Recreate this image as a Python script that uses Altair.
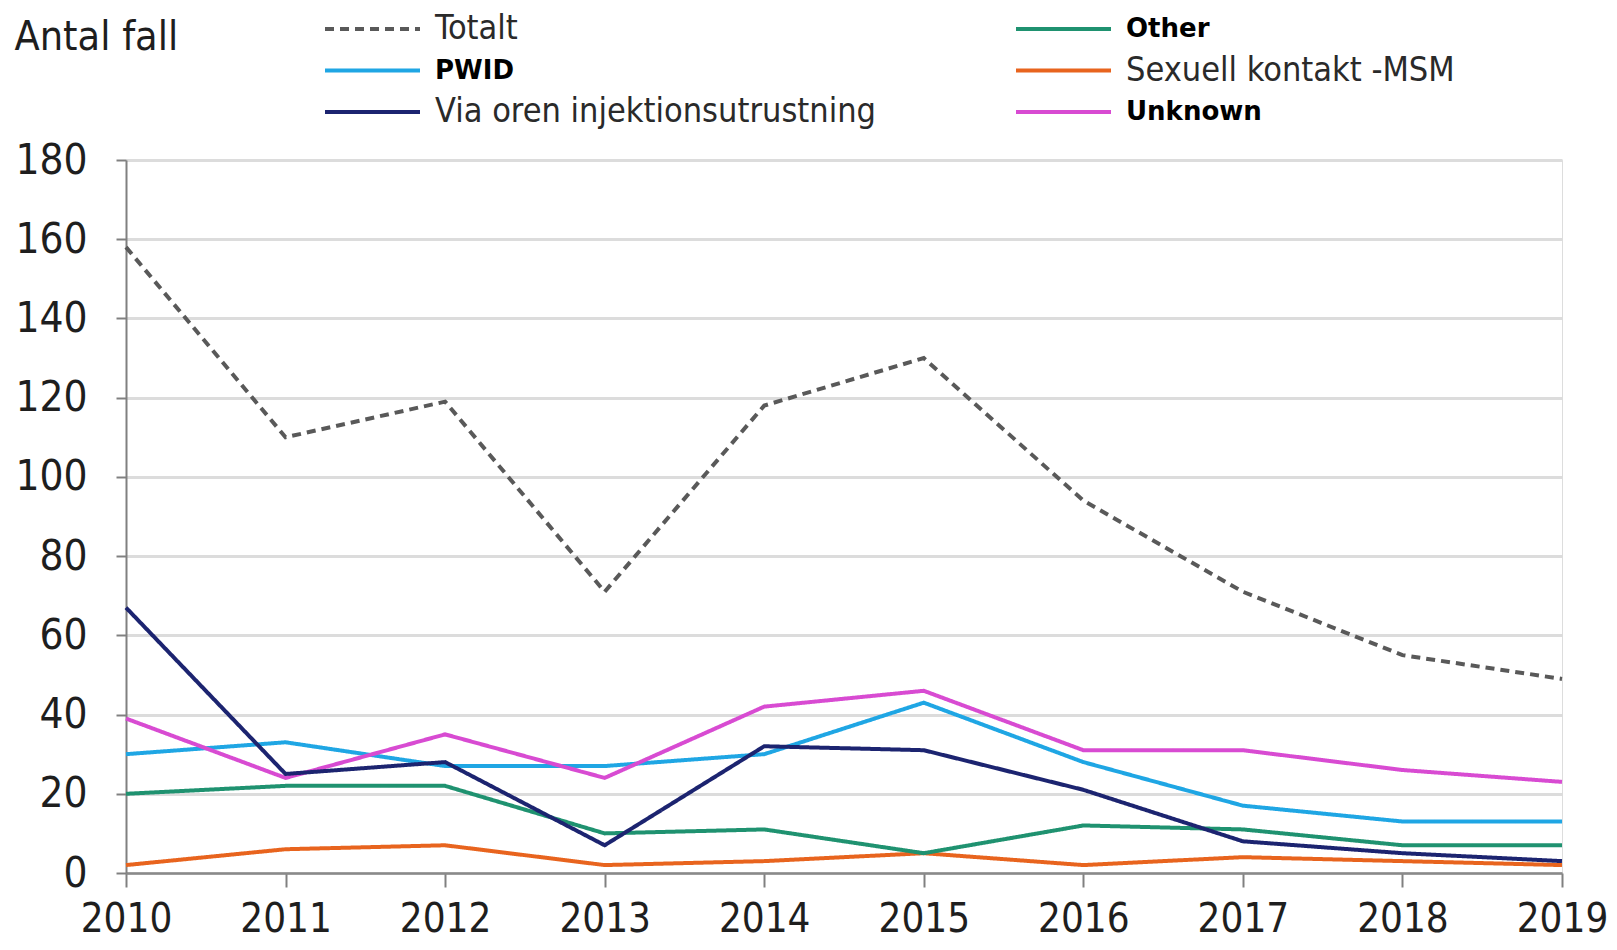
import altair as alt
import pandas as pd

years = list(range(2010, 2020))
series_names = ["Totalt", "PWID", "Via oren injektionsutrustning",
                "Other", "Sexuell kontakt -MSM", "Unknown"]
totalt = [158, 110, 119, 71, 118, 130, 94, 71, 55, 49]
pwid = [30, 33, 27, 27, 30, 43, 28, 17, 13, 13]
via_oren = [67, 25, 28, 7, 32, 31, 21, 8, 5, 3]
other = [20, 22, 22, 10, 11, 5, 12, 11, 7, 7]
msm = [2, 6, 7, 2, 3, 5, 2, 4, 3, 2]
unknown = [39, 24, 35, 24, 42, 46, 31, 31, 26, 23]
y_ticks = list(range(0, 181, 20))

colors = ["#595959", "#1fa6e4", "#1c2470", "#1f9270", "#e8641e", "#d84bd2"]
dashes = [[9, 6], [1, 0], [1, 0], [1, 0], [1, 0], [1, 0]]
bold_labels = ["PWID", "Other", "Unknown"]

values_by_series = {
    "Totalt": totalt, "PWID": pwid, "Via oren injektionsutrustning": via_oren,
    "Other": other, "Sexuell kontakt -MSM": msm, "Unknown": unknown,
}
draw_order = ["Totalt", "Sexuell kontakt -MSM", "Other", "PWID", "Unknown",
              "Via oren injektionsutrustning"]
rows = []
for s in draw_order:
    for yr, v in zip(years, values_by_series[s]):
        rows.append({"year": yr, "value": v, "series": s})
df = pd.DataFrame(rows)

leg = pd.DataFrame({
    "series": series_names,
    "col": [i // 3 for i in range(len(series_names))],
    "row": [i % 3 for i in range(len(series_names))],
})

FONT = "DejaVu Sans Condensed"
color_scale = alt.Scale(domain=series_names, range=colors)
dash_scale = alt.Scale(domain=series_names, range=dashes)

lines = alt.Chart(df).mark_line(strokeWidth=4).encode(
    x=alt.X("year:Q", scale=alt.Scale(domain=[2010, 2019], nice=False, zero=False),
            axis=alt.Axis(values=years, format="d", title=None, grid=False,
                          labelFont=FONT, labelFontSize=40, labelColor="#1e1e1e",
                          labelPadding=12, tickSize=14, tickColor="#808080", tickWidth=2,
                          domainColor="#8a8a8a", domainWidth=2.5, labelFlush=False)),
    y=alt.Y("value:Q", scale=alt.Scale(domain=[0, 180], nice=False),
            axis=alt.Axis(values=y_ticks, title="Antal fall", titleAngle=0,
                          titleAlign="left", titleBaseline="middle",
                          titleX=-112, titleY=-123, titleFont=FONT, titleFontSize=41,
                          titleFontWeight="normal", titleColor="#1e1e1e",
                          labelFont=FONT, labelFontSize=42, labelColor="#1e1e1e",
                          labelPadding=29, tickSize=10, tickColor="#808080", tickWidth=2,
                          domainColor="#808080", domainWidth=2,
                          gridColor="#dcdcdc", gridWidth=3)),
    color=alt.Color("series:N", scale=color_scale, legend=None),
    strokeDash=alt.StrokeDash("series:N", scale=dash_scale, legend=None),
    detail="series:N",
)

lx = alt.X("col:Q", scale=alt.Scale(domain=[0, 1], range=[199, 890]), axis=None)
ly = alt.Y("row:Q", scale=alt.Scale(domain=[0, 2], range=[-131, -48]), axis=None)

leg_rules = alt.Chart(leg).mark_rule(strokeWidth=4, x2Offset=95).encode(
    x=lx, x2=alt.X2("col:Q"), y=ly,
    color=alt.Color("series:N", scale=color_scale, legend=None),
    strokeDash=alt.StrokeDash("series:N", scale=dash_scale, legend=None),
)
leg_bold = alt.Chart(leg).transform_filter(
    alt.FieldOneOfPredicate(field="series", oneOf=bold_labels)
).transform_calculate(
    label="datum.series == 'PWID' ? '\u00a0' + datum.series : datum.series"
).mark_text(align="left", baseline="middle", dx=110, font="DejaVu Sans",
            fontWeight="bold", fontSize=26, color="#000000").encode(
    x=lx, y=ly, text="label:N")
leg_reg = alt.Chart(leg).transform_filter(
    ~alt.FieldOneOfPredicate(field="series", oneOf=bold_labels)
).mark_text(align="left", baseline="middle", dx=110, font=FONT,
            fontSize=34, color="#2a2a2a").encode(
    x=lx, y=ly, text="series:N")

legend_layer = alt.layer(leg_rules, leg_bold, leg_reg)

chart = alt.layer(lines, legend_layer).resolve_scale(
    x="independent", y="independent"
).properties(
    width=1436, height=713,
    autosize=alt.AutoSizeParams(type="none"),
    padding={"left": 118, "top": 152, "right": 46, "bottom": 69},
).configure_view(stroke=None).configure(background="white")

chart.save("out.html", embed_options={"renderer": "svg", "actions": False})
